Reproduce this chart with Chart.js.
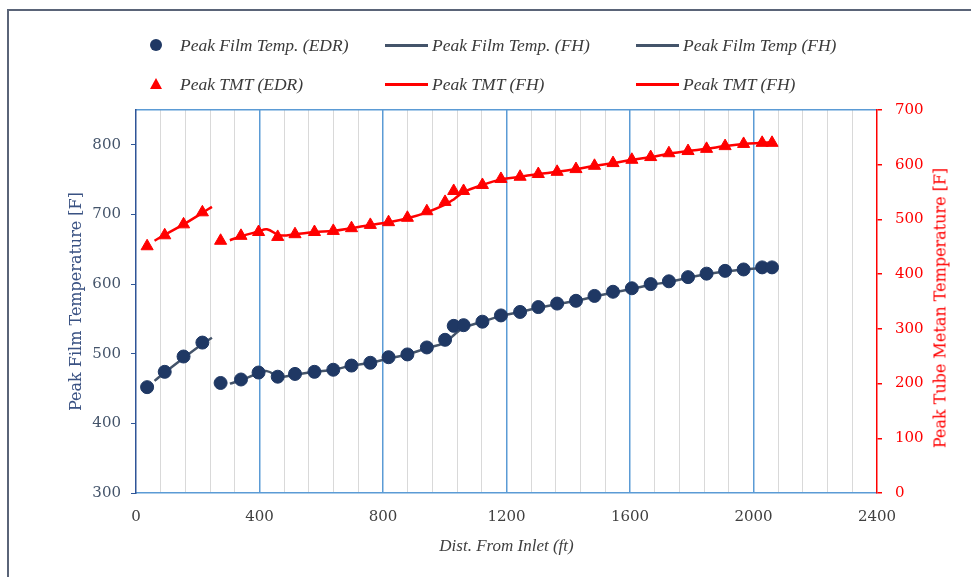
<!DOCTYPE html>
<html>
<head>
<meta charset="utf-8">
<title>Peak Film Temperature / Peak TMT</title>
<script src="https://cdn.jsdelivr.net/npm/chart.js@4.4.1/dist/chart.umd.min.js"></script>
<style>
    html, body { margin: 0; padding: 0; background: #fff; overflow: hidden; }
    #wrap { position: relative; width: 971px; height: 577px; overflow: hidden; }
    #frame { position: absolute; left: 7px; top: 9px; width: 990px; height: 600px;
             border-left: 2px solid #5a6478; border-top: 2px solid #5a6478; }
    canvas { position: absolute; left: 0; top: 0; }
    .leg-text { position: absolute; font-family: "Liberation Serif", serif; font-style: italic;
                font-size: 17.5px; color: #3a3a3a; white-space: nowrap; line-height: 20px; }
    .leg-mark { position: absolute; }
    #rightTitle { position: absolute; left: 940px; top: 308px; font-family: "DejaVu Serif", serif;
                  font-size: 16px; color: #ff0000; white-space: nowrap;
                  transform: translate(-50%, -50%) rotate(-90deg); }
</style>
</head>
<body>
<div id="wrap">
    <div id="frame"></div>
    <canvas id="chart" width="971" height="577"></canvas>
    <div id="legend"></div>
    <div id="rightTitle">Peak Tube Metan Temperature [F]</div>
</div>
<script>
// Distances (ft) of the EDR points
const edrDist = [36, 93, 154, 215, 274, 340, 397, 459, 515, 578, 639, 698, 759, 818, 879, 942, 1001, 1029,
    1061, 1122, 1182, 1244, 1303, 1364, 1425, 1485, 1545, 1606, 1667, 1726, 1788, 1848, 1908, 1968, 2028, 2060];

// Peak film temperature, EDR (left axis)
const filmEDR = [452, 474, 496, 516, 458, 463, 473, 467, 471, 474, 477, 483, 487, 495, 499, 509, 520, 540,
    541, 546, 555, 560, 567, 572, 576, 583, 589, 594, 600, 604, 610, 615, 619, 621, 624, 624];

// Peak TMT, EDR (right axis)
const tmtEDR = [451, 471, 491, 513, 461, 470, 477, 468, 473, 477, 479, 484, 490, 495, 503, 515, 532, 552,
    552, 563, 574, 578, 583, 587, 592, 598, 603, 609, 614, 621, 625, 629, 634, 638, 640, 640];

// FH curves, first section
const fhDist1 = [60, 93, 154, 215, 246];
const filmFH1 = [461, 473, 494, 514, 523];
const tmtFH1 = [461, 472, 491, 512, 523];

// FH curves, second section
const fhDist2 = [304, 340, 397, 424, 466, 515, 578, 639, 698, 759, 818, 879, 942, 1001, 1030, 1061, 1122,
    1182, 1244, 1303, 1364, 1425, 1485, 1545, 1606, 1667, 1726, 1788, 1848, 1908, 1968, 2028, 2060];
const filmFH2 = [457, 462, 472, 475, 467, 470, 474, 477, 483, 487, 493, 499, 508, 516, 527, 537, 546,
    554, 560, 566, 571, 576, 582, 588, 593, 599, 603, 609, 614, 618, 621, 623, 624];
const tmtFH2 = [462, 469, 478, 482, 471, 473, 477, 479, 484, 490, 495, 502, 513, 527, 537, 550, 563,
    573, 578, 583, 587, 592, 598, 603, 609, 614, 620, 625, 629, 634, 638, 640, 641];

const legendLabels = ['Peak Film Temp. (EDR)', 'Peak Film Temp. (FH)', 'Peak Film Temp (FH)',
    'Peak TMT (EDR)', 'Peak TMT (FH)', 'Peak TMT (FH)'];

const colors = {
    navy: '#1f3864',
    slate: '#44546a',
    red: '#ff0000',
    major: '#5b9bd5',
    minor: '#d9d9d9',
    leftAxis: '#2f5597',
    leftText: '#44546a',
    text: '#404040'
};

function toPoints(xs, ys) {
    return xs.map((x, i) => ({ x: x, y: ys[i] }));
}

const lineStyle = {
    showLine: true,
    pointRadius: 0,
    borderWidth: 2.5,
    tension: 0.4,
    fill: false
};

const datasets = [
    { label: legendLabels[0], data: toPoints(edrDist, filmEDR), yAxisID: 'y',
      pointStyle: 'circle', pointRadius: 6.5, backgroundColor: colors.navy, borderColor: colors.navy, showLine: false },
    { label: legendLabels[3], data: toPoints(edrDist, tmtEDR), yAxisID: 'y1',
      pointStyle: 'triangle', pointRadius: 7, backgroundColor: colors.red, borderColor: colors.red, showLine: false },
    Object.assign({ label: legendLabels[1], data: toPoints(fhDist1, filmFH1), yAxisID: 'y', borderColor: colors.slate }, lineStyle),
    Object.assign({ label: legendLabels[2], data: toPoints(fhDist2, filmFH2), yAxisID: 'y', borderColor: colors.slate }, lineStyle),
    Object.assign({ label: legendLabels[4], data: toPoints(fhDist1, tmtFH1), yAxisID: 'y1', borderColor: colors.red }, lineStyle),
    Object.assign({ label: legendLabels[5], data: toPoints(fhDist2, tmtFH2), yAxisID: 'y1', borderColor: colors.red }, lineStyle)
];

const tickFont = { family: 'DejaVu Serif', size: 15 };

const chart = new Chart(document.getElementById('chart').getContext('2d'), {
    type: 'scatter',
    data: { datasets: datasets },
    options: {
        responsive: false,
        animation: false,
        layout: { padding: { top: 110, left: 0, right: 0, bottom: 0 } },
        plugins: { legend: { display: false }, tooltip: { enabled: false } },
        scales: {
            x: {
                type: 'linear',
                min: 0,
                max: 2400,
                afterFit: function(scale) { scale.height = 84; },
                ticks: {
                    stepSize: 80,
                    autoSkip: false,
                    maxRotation: 0,
                    padding: 15,
                    color: colors.text,
                    font: tickFont,
                    callback: function(v) { return v % 400 === 0 ? String(v) : ''; }
                },
                grid: {
                    drawTicks: false,
                    color: function(ctx) {
                        const v = ctx.tick.value;
                        if (v === 0 || v === 2400) return 'transparent';
                        return v % 400 === 0 ? colors.major : colors.minor;
                    },
                    lineWidth: function(ctx) {
                        return ctx.tick.value % 400 === 0 ? 1.5 : 1;
                    }
                },
                border: { color: colors.major, width: 1.5 },
                title: {
                    display: true,
                    text: 'Dist. From Inlet (ft)',
                    color: colors.text,
                    font: { family: 'Liberation Serif', size: 17, style: 'italic' },
                    padding: { top: 0, bottom: 20 }
                }
            },
            y: {
                type: 'linear',
                position: 'left',
                min: 300,
                max: 850,
                bounds: 'data',
                afterFit: function(scale) { scale.width = 136; },
                afterBuildTicks: function(scale) {
                    scale.ticks = scale.ticks.filter(t => t.value % 100 === 0);
                },
                ticks: { stepSize: 100, padding: 10, color: colors.leftText, font: tickFont },
                grid: { drawOnChartArea: false, tickLength: 5, tickColor: colors.leftAxis },
                border: { color: colors.leftAxis, width: 1.5 },
                title: {
                    display: true,
                    text: 'Peak Film Temperature [F]',
                    color: '#3a5283',
                    font: { family: 'DejaVu Serif', size: 16 },
                    padding: { top: 67, bottom: 0 }
                }
            },
            y1: {
                type: 'linear',
                position: 'right',
                min: 0,
                max: 700,
                afterFit: function(scale) { scale.width = 94; },
                ticks: { stepSize: 100, padding: 13, color: colors.red, font: tickFont },
                grid: {
                    tickLength: 5,
                    tickColor: colors.red,
                    color: function(ctx) {
                        return ctx.tick.value === 700 ? colors.major : 'transparent';
                    },
                    lineWidth: 1.5
                },
                border: { color: colors.red, width: 1.5 }
            }
        }
    }
});

// HTML legend, two rows of three entries
const legendRows = [45, 84];
const legendCols = [{ mark: 150, text: 180 }, { mark: 385, text: 432 }, { mark: 636, text: 683 }];
const legendOrder = [[0, 'circle'], [2, 'line'], [3, 'line'], [1, 'triangle'], [4, 'line'], [5, 'line']];
const legendEl = document.getElementById('legend');

legendOrder.forEach(function(entry, i) {
    const ds = datasets[entry[0]];
    const kind = entry[1];
    const y = legendRows[Math.floor(i / 3)];
    const col = legendCols[i % 3];

    const mark = document.createElement('div');
    mark.className = 'leg-mark';
    if (kind === 'circle') {
        Object.assign(mark.style, { left: col.mark + 'px', top: (y - 6) + 'px', width: '12px', height: '12px',
            borderRadius: '50%', background: ds.backgroundColor });
    } else if (kind === 'triangle') {
        Object.assign(mark.style, { left: col.mark + 'px', top: (y - 6) + 'px', width: '0', height: '0',
            borderLeft: '6px solid transparent', borderRight: '6px solid transparent',
            borderBottom: '11px solid ' + ds.backgroundColor });
    } else {
        Object.assign(mark.style, { left: col.mark + 'px', top: (y - 1.5) + 'px', width: (col.text - col.mark - 4) + 'px',
            height: '3px', background: ds.borderColor });
    }
    legendEl.appendChild(mark);

    const text = document.createElement('div');
    text.className = 'leg-text';
    text.style.left = col.text + 'px';
    text.style.top = (y - 10) + 'px';
    text.textContent = ds.label;
    legendEl.appendChild(text);
});
</script>
</body>
</html>
